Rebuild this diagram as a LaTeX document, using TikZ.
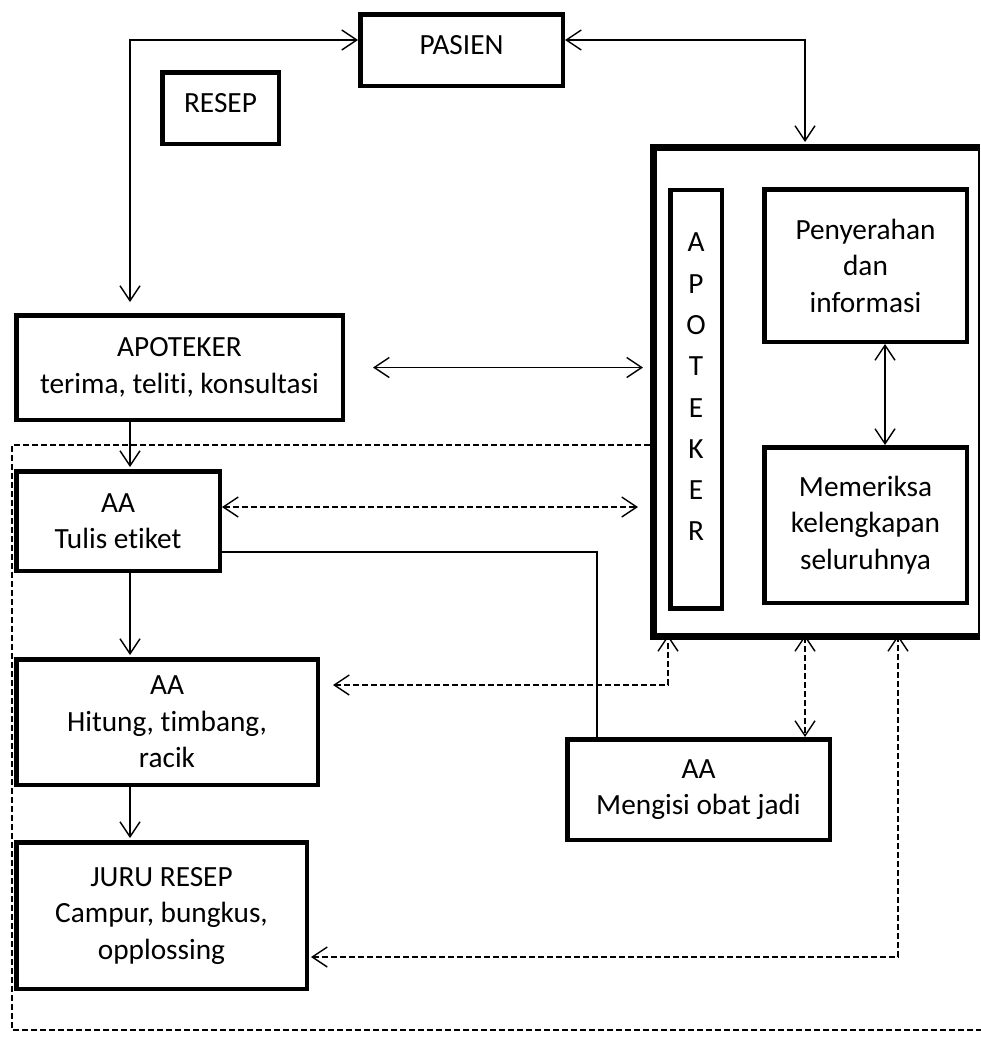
\documentclass[tikz,border=0pt]{standalone}
\usepackage{fontspec}
\setmainfont{Carlito}[Ligatures={NoCommon,NoContextual}]
\usetikzlibrary{arrows.meta,calc}
\newcommand\diafont{\fontsize{29.3}{36.5}\selectfont}
\newcommand\vertfont{\fontsize{29.3}{41.3}\selectfont}
\begin{document}
\begin{tikzpicture}[x=1pt,y=-1pt,
  box/.style={draw, line width=4.5pt, line join=miter, align=center, inner sep=0pt, font=\diafont},
  conn/.style={line width=1.4pt, line join=miter},
  dsh/.style={conn, dash pattern=on 6pt off 3pt},
  >={Straight Barb[length=15pt,width=20pt]}]
\useasboundingbox (0,0) rectangle (981,1039);

% boxes
\node[box, minimum width=202.5pt, minimum height=71.5pt, text depth=10pt] (pasien) at (461.5,50) {PASIEN};
\node[box, minimum width=116.5pt, minimum height=71.5pt, text depth=10pt] (resep) at (220.5,108) {RESEP};
\node[box, minimum width=326.5pt, minimum height=104.5pt] (apot) at (179.5,367.5) {APOTEKER\\terima, teliti, konsultasi};
\node[box, minimum width=203.5pt, minimum height=99.5pt] (tulis) at (118,521) {AA\\Tulis etiket};
\node[box, minimum width=301.5pt, minimum height=125.5pt] (hitung) at (167,722) {AA\\Hitung, timbang,\\racik};
\node[box, minimum width=290.5pt, minimum height=146.5pt] (juru) at (161.5,915.5) {JURU RESEP\\Campur, bungkus,\\opplossing};
\node[box, minimum width=262.5pt, minimum height=100.5pt] (mengisi) at (698.5,789.5) {AA\\Mengisi obat jadi};

% big group box
\node[minimum width=329pt, minimum height=496pt, outer sep=0pt, inner sep=0pt] (grp) at (814.5,392) {};
\draw[line width=7pt, line join=miter] ($(grp.north east)+(0,3.5)$) -- ($(grp.north west)+(3.5,3.5)$)
  -- ($(grp.south west)+(3.5,-3.5)$) -- ($(grp.south east)+(0,-3.5)$);
\draw[line width=1.5pt] (grp.north east) -- (grp.south east);

\node[box, minimum width=51.5pt, minimum height=418.5pt] (apv) at (696,399) {};
\node[font=\vertfont, align=center, inner sep=0pt] (apvtext) at (696,387) {A\\P\\O\\T\\E\\K\\E\\R};
\node[box, minimum width=202.5pt, minimum height=152.5pt] (peny) at (865.5,265.5) {Penyerahan\\dan\\informasi};
\node[box, minimum width=202.5pt, minimum height=155.5pt] (mem) at (865.5,525) {Memeriksa\\kelengkapan\\seluruhnya};

% dashed frame
\coordinate (f0) at (0,445);
\coordinate (f1) at (12,1030);
\coordinate (f2) at (981,1030);
\draw[dsh] (grp.west |- f0) -| (f1) -- (f2);

% connectors
\draw[conn,<->] ($(pasien.west)+(0,-10)$) -| ($(apot.north)+(-49.5,-11)$);
\draw[conn,<->] ($(pasien.east)+(0,-10)$) -| ($(grp.north)+(-9.5,-2)$);
\draw[conn,<->] ($(apot.east)+(28,0)$) -- ($(grp.west |- apot.east)+(-7,0)$);
\draw[dsh,<->] ($(tulis.east)+(0,-14)$) -- ($(grp.west |- tulis.east)+(-12,-14)$);
\draw[conn] ($(tulis.east)+(0,31)$) -| ($(mengisi.north)+(-101.5,0)$);
\draw[conn,->] ($(apot.south)+(-49.5,0)$) -- ($(tulis.north)+(12,-2)$);
\draw[conn,->] ($(tulis.south)+(12,0)$) -- ($(hitung.north)+(-37,-2)$);
\draw[conn,->] ($(hitung.south)+(-37,0)$) -- ($(juru.north)+(-31.5,-2)$);
\draw[dsh,<->] ($(hitung.east)+(13,-37)$) -| ($(grp.south)+(-146.5,-5)$);
\draw[dsh,<->] ($(grp.south)+(-9.5,-5)$) -- ($(mengisi.north)+(106.5,0)$);
\draw[dsh,<->] ($(juru.east)+(2,41.5)$) -| ($(grp.south)+(83.5,-5)$);
\draw[conn,<->] ($(peny.south)+(19.5,0)$) -- ($(mem.north)+(19.5,0)$);
\end{tikzpicture}
\end{document}
